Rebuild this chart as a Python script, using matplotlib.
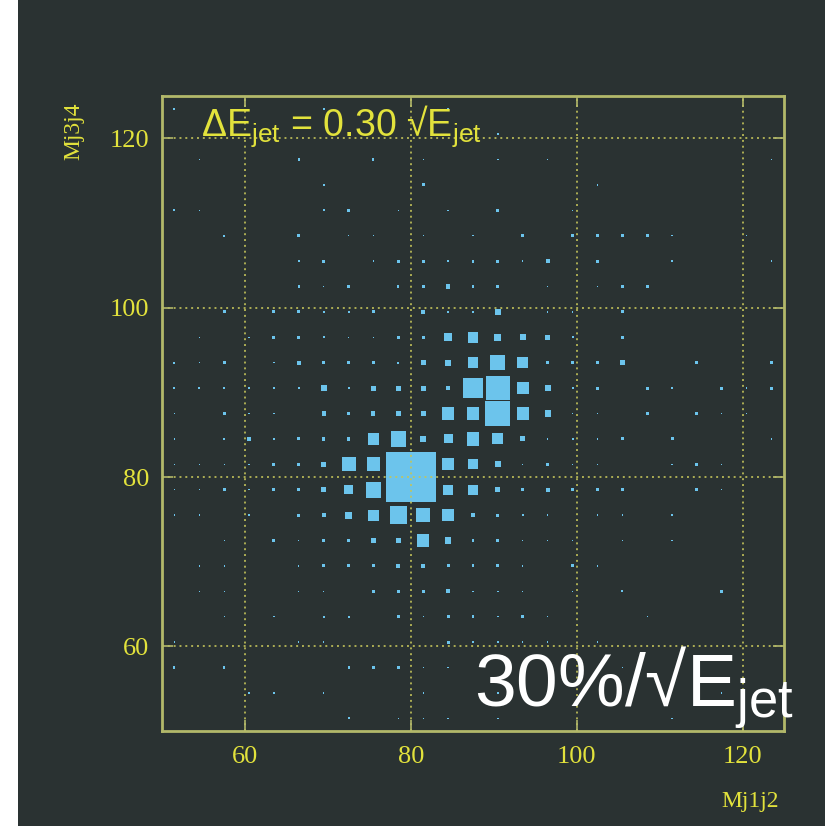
import numpy as np
import matplotlib.pyplot as plt
from matplotlib.patches import Rectangle

#==============================================================================
#                         Data : 2D histogram Mj1j2 vs Mj3j4
#==============================================================================
x_lo, x_hi, nbx = 50., 125., 25
y_lo, y_hi, nby = 50., 125., 25

# bin contents, row index = y bin (0 = lowest), column = x bin
counts = np.zeros((nby, nbx))
rows = {
    24: {0: 8, 6: 8, 11: 8},
    23: {13: 8},
    22: {1: 5, 5: 8, 8: 8, 10: 5, 13: 5, 15: 5, 24: 5},
    21: {6: 8, 10: 12, 17: 5},
    20: {0: 8, 1: 5, 6: 8, 7: 12, 9: 5, 11: 5, 13: 12, 16: 5},
    19: {2: 8, 5: 12, 7: 5, 8: 5, 10: 5, 12: 5, 14: 12, 16: 12, 17: 12,
         18: 12, 19: 12, 20: 5, 23: 5},
    18: {5: 8, 6: 12, 8: 5, 9: 12, 10: 12, 11: 5, 12: 12, 13: 12, 14: 5,
         15: 16, 17: 12, 20: 5, 24: 5},
    17: {5: 8, 6: 5, 7: 12, 9: 8, 10: 12, 11: 16, 12: 8, 13: 12, 15: 5,
         17: 5, 18: 12, 19: 12},
    16: {2: 12, 4: 12, 5: 12, 6: 8, 7: 8, 8: 12, 10: 16, 11: 5, 12: 8,
         13: 24, 15: 5, 16: 5, 18: 12},
    15: {1: 5, 3: 5, 4: 12, 5: 12, 6: 8, 7: 5, 8: 5, 9: 12, 10: 12, 11: 32,
         12: 44, 13: 28, 14: 24, 15: 20, 16: 8, 18: 12},
    14: {0: 8, 1: 5, 2: 12, 4: 5, 5: 16, 6: 12, 7: 14, 8: 12, 9: 8, 10: 20,
         11: 24, 12: 44, 13: 60, 14: 44, 15: 10, 16: 12, 17: 12, 18: 20,
         21: 12, 24: 12},
    13: {0: 8, 1: 8, 2: 8, 3: 5, 4: 5, 5: 8, 6: 24, 7: 8, 8: 20, 9: 20,
         10: 20, 11: 16, 12: 80, 13: 96, 14: 48, 15: 24, 16: 8, 17: 12,
         19: 12, 20: 5, 22: 12, 23: 5, 24: 12},
    12: {0: 5, 2: 12, 3: 5, 4: 5, 6: 16, 7: 14, 8: 16, 9: 20, 10: 20,
         11: 48, 12: 48, 13: 100, 14: 48, 15: 24, 16: 5, 17: 5, 19: 12,
         21: 12, 22: 5, 23: 5},
    11: {0: 5, 2: 8, 3: 16, 4: 8, 5: 12, 6: 14, 7: 14, 8: 48, 9: 60,
         10: 24, 11: 36, 12: 52, 13: 44, 14: 20, 15: 5, 16: 8, 17: 5,
         18: 12, 20: 12, 24: 5},
    10: {0: 5, 1: 5, 2: 5, 3: 5, 4: 12, 5: 12, 6: 20, 7: 56, 8: 56,
         9: 100, 10: 100, 11: 48, 12: 40, 13: 24, 14: 5, 15: 12, 16: 5,
         17: 5, 20: 5, 21: 12, 22: 5},
    9: {0: 5, 1: 5, 2: 12, 3: 5, 4: 12, 5: 12, 6: 20, 7: 36, 8: 64,
        9: 100, 10: 100, 11: 40, 12: 40, 13: 20, 14: 12, 15: 16, 16: 12,
        17: 12, 18: 12, 21: 12, 22: 5},
    8: {0: 5, 1: 5, 3: 5, 5: 12, 6: 16, 7: 28, 8: 44, 9: 68, 10: 56,
        11: 48, 12: 16, 13: 12, 14: 8, 15: 5, 17: 5, 18: 5, 20: 5},
    7: {2: 5, 4: 12, 5: 5, 6: 12, 7: 12, 8: 20, 9: 20, 10: 48, 11: 24,
        12: 8, 13: 12, 14: 5, 15: 5, 16: 5, 18: 5, 20: 5},
    6: {1: 5, 2: 5, 5: 5, 6: 12, 7: 12, 8: 12, 9: 16, 10: 16, 11: 12,
        12: 12, 13: 12, 14: 5, 16: 12, 17: 5},
    5: {1: 5, 2: 5, 5: 5, 6: 5, 8: 12, 9: 12, 10: 12, 11: 16, 12: 5,
        13: 5, 14: 5, 16: 5, 18: 8, 22: 12},
    4: {2: 5, 4: 5, 6: 8, 7: 8, 9: 12, 10: 5, 11: 12, 12: 12, 13: 5,
        14: 12, 15: 5, 19: 5},
    3: {0: 5, 5: 5, 6: 5, 11: 12, 12: 5, 13: 5, 14: 5, 15: 5, 17: 5},
    2: {0: 8, 2: 8, 7: 8, 8: 12, 9: 12, 10: 5, 11: 5, 18: 5},
    1: {3: 5, 4: 5, 6: 5, 10: 5, 13: 5, 22: 5},
    0: {7: 8, 9: 5, 10: 5, 11: 5, 13: 5, 20: 5},
}
for j, d in rows.items():
    for i, v in d.items():
        counts[j, i] = v

x_ticks = [60, 80, 100, 120]
y_ticks = [60, 80, 100, 120]

#==============================================================================
#                         Style
#==============================================================================
bg      = '#2a3232'
c_box   = '#6cc4ec'
c_frame = '#b2b86a'
c_tick  = '#e2e23c'
c_grid  = '#c4c45a'

plt.rcParams['mathtext.fontset'] = 'custom'
plt.rcParams['mathtext.rm'] = 'Liberation Sans'
plt.rcParams['mathtext.it'] = 'Liberation Sans:italic'

#==============================================================================
#                         Plotting
#==============================================================================
fig = plt.figure(figsize=(8.25, 8.26), dpi=100, facecolor=bg)
# white strip at the left edge
fig.patches.append(Rectangle((0, 0), 18/825., 1, transform=fig.transFigure,
                             facecolor='white', edgecolor='none', zorder=0))

ax = fig.add_axes([162/825., 1-731/826., 622/825., 635/826.])
ax.set_facecolor(bg)

dx = (x_hi - x_lo)/nbx
dy = (y_hi - y_lo)/nby
cmax = counts.max()
for j in range(nby):
    for i in range(nbx):
        c = counts[j, i]
        if c <= 0:
            continue
        xc = x_lo + (i + 0.5)*dx
        yc = y_lo + (j + 0.5)*dy
        w = dx*c/cmax
        h = dy*c/cmax
        ax.add_patch(Rectangle((xc - w/2, yc - h/2), w, h,
                               facecolor=c_box, edgecolor='none', zorder=1))

ax.set_xlim(x_lo, x_hi)
ax.set_ylim(y_lo, y_hi)
ax.set_xticks(x_ticks)
ax.set_yticks(y_ticks)
ax.grid(True, color=c_grid, linestyle=(0, (1, 2)), linewidth=1.4, alpha=0.85)
ax.set_axisbelow(False)
for s in ax.spines.values():
    s.set_color(c_frame)
    s.set_linewidth(2)
ax.tick_params(direction='in', length=8, width=1.2, color=c_frame,
               labelcolor=c_tick, top=True, right=True)
ax.tick_params(axis='x', pad=11)
ax.tick_params(axis='y', pad=9)
for lab in ax.get_xticklabels() + ax.get_yticklabels():
    lab.set_fontfamily('Liberation Serif')
    lab.set_fontsize(19)

# axis titles
fig.text(74/825., 1-131/826., 'Mj3j4', rotation=90, ha='center', va='center',
         color=c_tick, fontsize=17, family='Liberation Serif')
fig.text(750/825., 1-802/826., 'Mj1j2', ha='center', va='center',
         color=c_tick, fontsize=17, family='Liberation Serif')

# resolution labels
fig.text(201/825., 1-136/826., r'ΔE$_{\mathrm{jet}}$ = 0.30 √E$_{\mathrm{jet}}$',
         ha='left', va='baseline', color=c_tick, fontsize=27,
         family=['Liberation Sans', 'DejaVu Sans'])
fig.text(474/825., 1-707/826., r'30%/√E$_{\mathrm{jet}}$',
         ha='left', va='baseline', color='white', fontsize=54,
         family=['Liberation Sans', 'DejaVu Sans'])

plt.savefig('out.png', dpi=100, facecolor=bg)
